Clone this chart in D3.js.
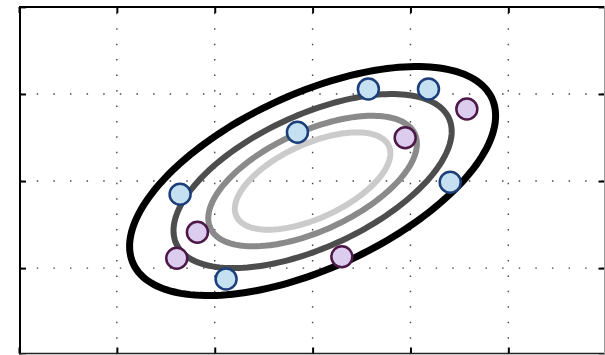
<!DOCTYPE html>
<html>
<head>
<meta charset="utf-8">
<script src="https://cdn.jsdelivr.net/npm/d3@7"></script>
<style>
  html, body { margin: 0; padding: 0; background: #fff; }
  svg { display: block; }
</style>
</head>
<body>
<svg id="chart" width="605" height="355"></svg>
<script>
// ---- data ----
const xTicks = [0, 1, 2, 3, 4, 5, 6];
const yTicks = [0, 1, 2, 3, 4];

// Gaussian contour parameters (data units)
const center = [3.0, 2.0];
const sigma = [1.87, 1.315];
const rho = 0.57;
const levels = [1.0, 0.76, 0.57, 0.425];

// sample points
const blueX = [3.57, 4.184, 2.845, 1.646, 4.406, 2.116];
const blueY = [3.057, 3.057, 2.56, 1.848, 1.986, 0.875];
const purpleX = [4.576, 3.946, 1.823, 1.612, 3.299];
const purpleY = [2.828, 2.498, 1.412, 1.113, 1.131];

// ---- drawing ----
const svg = d3.select("#chart");
const x = d3.scaleLinear().domain([0, 6]).range([19, 606.2]);
const y = d3.scaleLinear().domain([0, 4]).range([355.2, 6.9]);

const levelColors = ["#000000", "#4d4d4d", "#8a8a8a", "#cbcbcb"];
const levelWidths = [7, 6, 6, 6];

// grid
const grid = svg.append("g");
grid.selectAll("line.vg").data(xTicks.slice(1, -1)).join("line")
  .attr("x1", d => x(d)).attr("x2", d => x(d))
  .attr("y1", y(0)).attr("y2", y(4))
  .attr("stroke", "#444").attr("stroke-width", 1.4)
  .attr("stroke-dasharray", "1.5,13.95").attr("stroke-dashoffset", -1.05);
grid.selectAll("line.hg").data(yTicks.slice(1, -1)).join("line")
  .attr("x1", x(0)).attr("x2", x(6))
  .attr("y1", d => y(d)).attr("y2", d => y(d))
  .attr("stroke", "#444").attr("stroke-width", 1.4)
  .attr("stroke-dasharray", "1.5,15.12").attr("stroke-dashoffset", -1.1);

// ellipses
const ts = d3.range(0, 361, 2).map(d => d * Math.PI / 180);
const line = d3.line().x(p => x(p[0])).y(p => y(p[1])).curve(d3.curveLinearClosed);
levels.forEach((r, i) => {
  const pts = ts.map(t => [
    center[0] + r * sigma[0] * Math.cos(t),
    center[1] + r * sigma[1] * (rho * Math.cos(t) + Math.sqrt(1 - rho * rho) * Math.sin(t))
  ]);
  svg.append("path").attr("d", line(pts))
    .attr("fill", "none")
    .attr("stroke", levelColors[i])
    .attr("stroke-width", levelWidths[i]);
});

// points
const blue = blueX.map((v, i) => [v, blueY[i]]);
const purple = purpleX.map((v, i) => [v, purpleY[i]]);
svg.append("g").selectAll("circle").data(blue).join("circle")
  .attr("cx", d => x(d[0])).attr("cy", d => y(d[1])).attr("r", 10.5)
  .attr("fill", "#c4e0f1").attr("stroke", "#1c3f7c").attr("stroke-width", 2.5);
svg.append("g").selectAll("circle").data(purple).join("circle")
  .attr("cx", d => x(d[0])).attr("cy", d => y(d[1])).attr("r", 10.5)
  .attr("fill", "#dccdee").attr("stroke", "#4b1848").attr("stroke-width", 2.5);

// ticks (inward, no labels)
const tickLen = 6;
const axTop = d3.axisBottom(x).tickValues(xTicks).tickSize(tickLen).tickFormat("");
const axBottom = d3.axisTop(x).tickValues(xTicks).tickSize(tickLen).tickFormat("");
const axLeft = d3.axisRight(y).tickValues(yTicks).tickSize(tickLen).tickFormat("");
const axRight = d3.axisLeft(y).tickValues(yTicks).tickSize(tickLen).tickFormat("");
function styleAxis(g) {
  g.select(".domain").remove();
  g.selectAll(".tick line").attr("stroke", "#000").attr("stroke-width", 2);
}
svg.append("g").attr("transform", "translate(0,7)").call(axTop).call(styleAxis);
svg.append("g").attr("transform", "translate(0,353.5)").call(axBottom).call(styleAxis);
svg.append("g").attr("transform", "translate(20,0)").call(axLeft).call(styleAxis);
svg.append("g").attr("transform", "translate(604.5,0)").call(axRight).call(styleAxis);

// frame
svg.append("line").attr("x1", 20).attr("x2", 20).attr("y1", 6).attr("y2", 354.5)
  .attr("stroke", "#000").attr("stroke-width", 2);
svg.append("line").attr("x1", 19).attr("x2", 605).attr("y1", 7).attr("y2", 7)
  .attr("stroke", "#000").attr("stroke-width", 2);
svg.append("line").attr("x1", 19).attr("x2", 605).attr("y1", 353.5).attr("y2", 353.5)
  .attr("stroke", "#222").attr("stroke-width", 1.6);
svg.append("line").attr("x1", 604.5).attr("x2", 604.5).attr("y1", 6).attr("y2", 354.5)
  .attr("stroke", "#999").attr("stroke-width", 1);
</script>
</body>
</html>
